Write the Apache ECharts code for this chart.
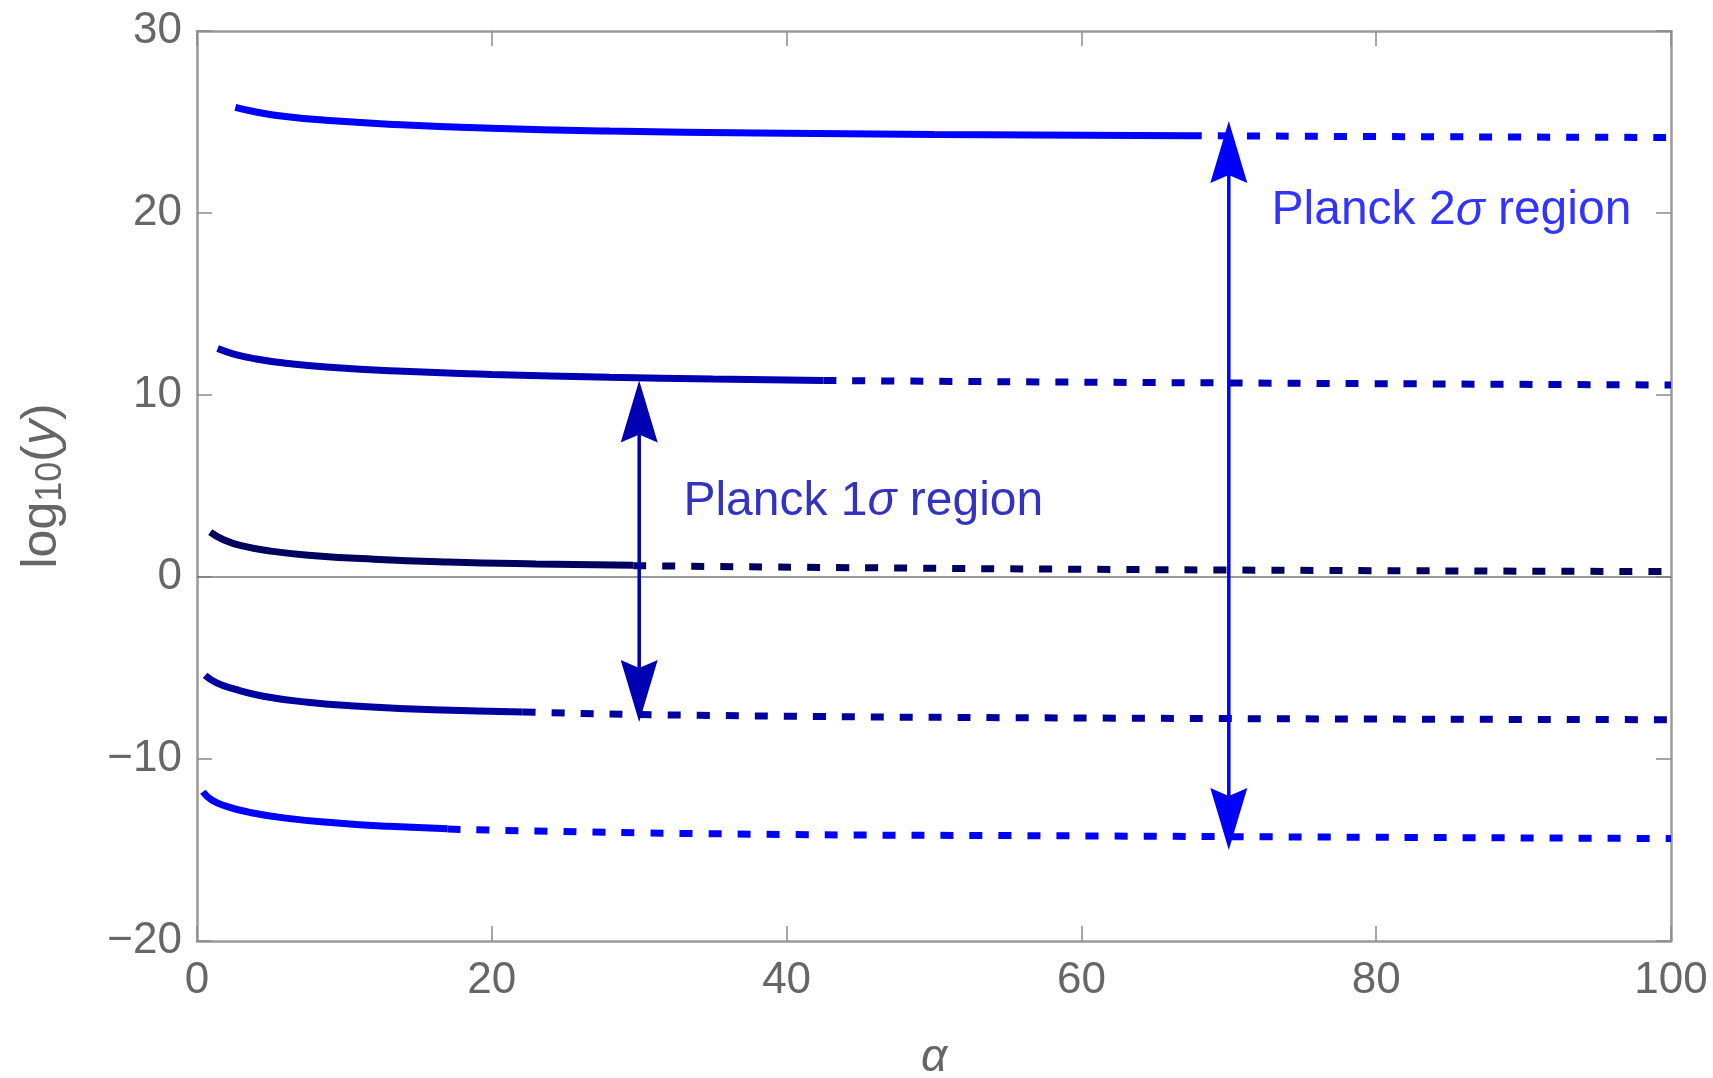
<!DOCTYPE html>
<html>
<head>
<meta charset="utf-8">
<script src="https://cdn.jsdelivr.net/npm/echarts@6/dist/echarts.min.js"></script>
<style>
  html, body { margin: 0; padding: 0; background: #ffffff; }
  #chart { width: 1713px; height: 1078px; }
</style>
</head>
<body>
<div id="chart"></div>
<script>
// axis ticks
const alphaTicks = [0, 20, 40, 60, 80, 100];
const logTicks = [-20, -10, 0, 10, 20, 30];

// curves: [alpha, log10(y)]
const curve1Solid = [[2.6, 25.8], [4, 25.55], [6, 25.3], [9, 25.08], [13, 24.88], [20, 24.65], [28, 24.5], [38, 24.4], [50, 24.32], [67.3, 24.25]];
const curve1Dash = [[67.3, 24.25], [80, 24.2], [100, 24.15]];
const curve2Solid = [[1.4, 12.55], [2.5, 12.25], [4, 11.98], [6, 11.75], [9, 11.52], [14, 11.3], [20, 11.13], [28, 10.98], [35, 10.88], [42.5, 10.8]];
const curve2Dash = [[42.5, 10.8], [61, 10.7], [100, 10.55]];
const curve3Solid = [[0.9, 2.47], [1.8, 2.05], [3, 1.72], [5, 1.42], [8, 1.17], [12, 0.98], [17, 0.83], [23, 0.72], [29.6, 0.64]];
const curve3Dash = [[29.6, 0.62], [61, 0.42], [100, 0.3]];
const curve4Solid = [[0.55, -5.4], [1.3, -5.8], [2.5, -6.15], [4.5, -6.55], [7.5, -6.88], [11, -7.1], [16, -7.3], [22.1, -7.42]];
const curve4Dash = [[22.1, -7.42], [34, -7.6], [61, -7.75], [100, -7.84]];
const curve5Solid = [[0.4, -11.8], [1, -12.25], [2, -12.6], [3.5, -12.92], [6, -13.25], [9.5, -13.52], [13, -13.7], [17, -13.83]];
const curve5Dash = [[17, -13.85], [34, -14.1], [61, -14.23], [100, -14.37]];

// double arrows: alpha, upper tip, lower tip
const arrowAlpha = [30, 70];
const arrowTop = [10.8, 25.06];
const arrowBottom = [-7.97, -15.0];

// annotations: [alpha, log10(y)] of the left/middle anchor
const notePos = [[33.0, 4.16], [72.9, 20.1]];
const noteText = ['1', '2'];

const colors = ['#0000FF', '#0000B3', '#00005E', '#00009E', '#0000FF'];
const arrowColors = ['#0000B3', '#0000FF'];

const font = '"Liberation Sans", Arial, sans-serif';
const grey = '#666666';

var dom = document.getElementById('chart');
var myChart = echarts.init(dom, null, { renderer: 'canvas' });

function curve(data, color, dashed) {
    return {
        type: 'line',
        data: data,
        smooth: 0.5,
        showSymbol: false,
        silent: true,
        animation: false,
        lineStyle: {
            color: color,
            width: 7,
            type: dashed ? [13, 16] : 'solid',
            cap: 'butt'
        },
        z: 3
    };
}

const solids = [curve1Solid, curve2Solid, curve3Solid, curve4Solid, curve5Solid];
const dashes = [curve1Dash, curve2Dash, curve3Dash, curve4Dash, curve5Dash];

const series = [];
solids.forEach((d, i) => series.push(curve(d, colors[i], false)));
dashes.forEach((d, i) => series.push(curve(d, colors[i], true)));

// zero line
series.push({
    type: 'line',
    data: [],
    silent: true,
    markLine: {
        silent: true,
        symbol: 'none',
        label: { show: false },
        lineStyle: { color: '#7a7a7a', width: 1.5, type: 'solid' },
        data: [{ yAxis: 0 }]
    },
    z: 1
});

// arrows
series.push({
    type: 'custom',
    silent: true,
    animation: false,
    data: arrowAlpha.map((a, i) => [a, arrowTop[i], arrowBottom[i]]),
    renderItem: function (params, api) {
        const top = api.coord([api.value(0), api.value(1)]);
        const bot = api.coord([api.value(0), api.value(2)]);
        const c = arrowColors[params.dataIndex];
        const L = 62, W = 37, N = 54;
        const x = top[0];
        return {
            type: 'group',
            children: [
                {
                    type: 'line',
                    shape: { x1: x, y1: top[1] + 20, x2: x, y2: bot[1] - 20 },
                    style: { stroke: c, lineWidth: 3.5 }
                },
                {
                    type: 'polygon',
                    shape: { points: [[x, top[1]], [x + W / 2, top[1] + L], [x, top[1] + N], [x - W / 2, top[1] + L]] },
                    style: { fill: c }
                },
                {
                    type: 'polygon',
                    shape: { points: [[x, bot[1]], [x + W / 2, bot[1] - L], [x, bot[1] - N], [x - W / 2, bot[1] - L]] },
                    style: { fill: c }
                }
            ]
        };
    },
    z: 5
});

// annotation texts
series.push({
    type: 'scatter',
    silent: true,
    symbolSize: 0,
    data: notePos.map((p, i) => ({
        value: p,
        label: {
            show: true,
            position: 'right',
            distance: 0,
            color: arrowColors[i],
            formatter: '{t|Planck ' + noteText[i] + '}{s|σ}{t| region}',
            rich: {
                t: { fontSize: 48, fontFamily: font, color: arrowColors[i] },
                s: { fontSize: 48, fontFamily: font, fontStyle: 'italic', color: arrowColors[i] }
            }
        }
    })),
    z: 6
});

const frame = { show: true, lineStyle: { color: '#9a9a9a', width: 2.5 } };
const tick = { show: true, inside: true, length: 15, lineStyle: { color: '#8a8a8a', width: 1.5 } };

const option = {
    animation: false,
    backgroundColor: '#ffffff',
    grid: { left: 197, right: 42, top: 31, bottom: 137, outerBoundsMode: 'none', containLabel: false },
    xAxis: [
        {
            type: 'value',
            min: alphaTicks[0],
            max: alphaTicks[alphaTicks.length - 1],
            interval: alphaTicks[1] - alphaTicks[0],
            position: 'bottom',
            axisLine: Object.assign({ onZero: false }, frame),
            axisTick: tick,
            splitLine: { show: false },
            axisLabel: { fontSize: 44, fontFamily: font, color: grey, margin: 18 },
            name: 'α',
            nameLocation: 'middle',
            nameGap: 94,
            nameTextStyle: { fontSize: 46, fontFamily: font, fontStyle: 'italic', color: grey }
        },
        {
            type: 'value',
            min: alphaTicks[0],
            max: alphaTicks[alphaTicks.length - 1],
            interval: alphaTicks[1] - alphaTicks[0],
            position: 'top',
            axisLine: Object.assign({ onZero: false }, frame),
            axisTick: tick,
            splitLine: { show: false },
            axisLabel: { show: false }
        }
    ],
    yAxis: [
        {
            type: 'value',
            min: logTicks[0],
            max: logTicks[logTicks.length - 1],
            interval: logTicks[1] - logTicks[0],
            position: 'left',
            axisLine: Object.assign({ onZero: false }, frame),
            axisTick: tick,
            splitLine: { show: false },
            axisLabel: {
                fontSize: 44, fontFamily: font, color: grey, margin: 15,
                formatter: v => String(v).replace('-', '\u2212')
            },
            name: '{a|log}{b|10}{a|(}{c|y}{a|)}',
            nameLocation: 'middle',
            nameGap: 128,
            nameRotate: 90,
            nameTextStyle: {
                color: grey,
                rich: {
                    a: { fontSize: 50, fontFamily: font, color: grey, lineHeight: 54 },
                    b: { fontSize: 36, fontFamily: font, color: grey, lineHeight: 34, verticalAlign: 'bottom' },
                    c: { fontSize: 50, fontFamily: font, fontStyle: 'italic', color: grey, lineHeight: 54 }
                }
            }
        },
        {
            type: 'value',
            min: logTicks[0],
            max: logTicks[logTicks.length - 1],
            interval: logTicks[1] - logTicks[0],
            position: 'right',
            axisLine: Object.assign({ onZero: false }, frame),
            axisTick: tick,
            splitLine: { show: false },
            axisLabel: { show: false }
        }
    ],
    series: series
};

myChart.setOption(option);
window.addEventListener('resize', myChart.resize);
</script>
</body>
</html>
